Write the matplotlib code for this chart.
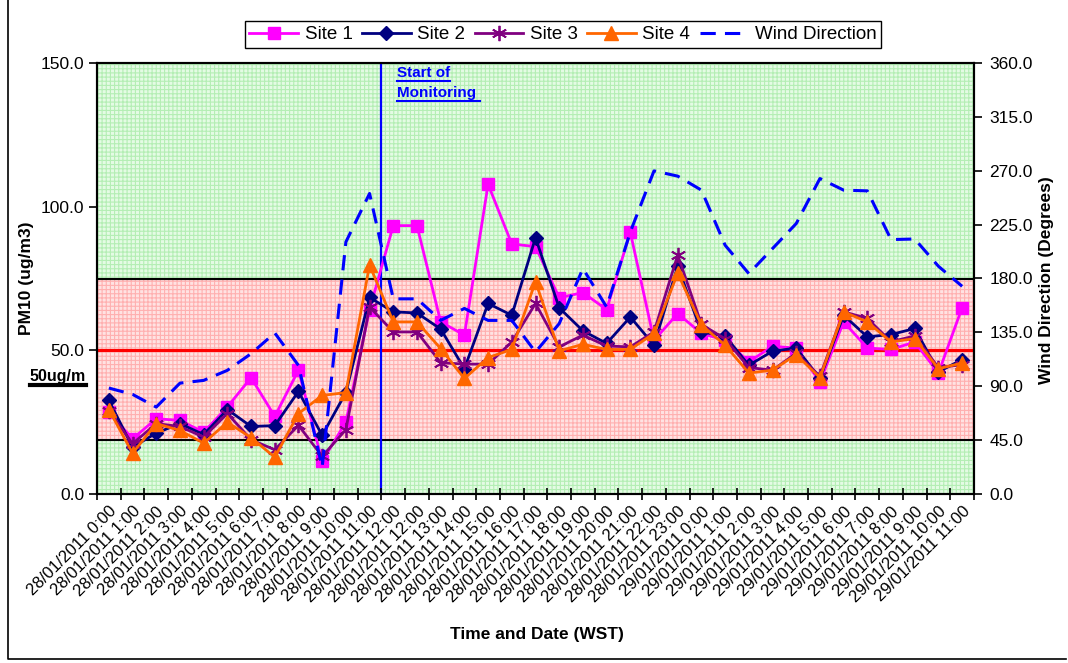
import matplotlib
matplotlib.use("Agg")
import numpy as np
import matplotlib.pyplot as plt
from matplotlib.lines import Line2D

# ---- data ----
labels = [
    "28/01/2011 0:00", "28/01/2011 1:00", "28/01/2011 2:00", "28/01/2011 3:00",
    "28/01/2011 4:00", "28/01/2011 5:00", "28/01/2011 6:00", "28/01/2011 7:00",
    "28/01/2011 8:00", "28/01/2011 9:00", "28/01/2011 10:00", "28/01/2011 11:00",
    "28/01/2011 12:00", "28/01/2011 12:00", "28/01/2011 13:00", "28/01/2011 14:00",
    "28/01/2011 15:00", "28/01/2011 16:00", "28/01/2011 17:00", "28/01/2011 18:00",
    "28/01/2011 19:00", "28/01/2011 20:00", "28/01/2011 21:00", "28/01/2011 22:00",
    "28/01/2011 23:00", "29/01/2011 0:00", "29/01/2011 1:00", "29/01/2011 2:00",
    "29/01/2011 3:00", "29/01/2011 4:00", "29/01/2011 5:00", "29/01/2011 6:00",
    "29/01/2011 7:00", "29/01/2011 8:00", "29/01/2011 9:00", "29/01/2011 10:00",
    "29/01/2011 11:00",
]
site1 = [28.5, 19.2, 26.2, 25.6, 21.5, 30.3, 40.5, 27.0, 43.1, 11.4, 25.0, 64.2,
         93.4, 93.4, 59.9, 55.3, 107.8, 87.0, 86.1, 68.3, 70.1, 64.2, 91.1, 53.5,
         62.8, 55.9, 53.5, 46.0, 51.4, 50.8, 39.0, 59.9, 50.8, 50.3, 52.9, 42.1, 64.9]
site2 = [32.6, 16.3, 21.2, 24.5, 20.7, 29.4, 23.5, 23.8, 35.7, 20.4, 35.3, 68.4,
         63.4, 63.0, 57.4, 43.6, 66.3, 62.2, 89.2, 64.8, 56.8, 52.4, 61.6, 51.8,
         79.3, 56.4, 55.0, 44.8, 49.7, 50.8, 40.2, 62.2, 54.7, 55.5, 57.6, 42.5, 46.8]
site3 = [29.0, 17.5, 24.5, 23.5, 19.8, 28.0, 18.9, 15.4, 23.9, 13.1, 22.4, 65.1,
         56.4, 56.4, 45.7, 45.2, 45.2, 52.9, 66.3, 51.2, 55.3, 51.5, 51.2, 56.4,
         83.2, 59.0, 54.0, 44.0, 43.1, 49.0, 41.0, 63.4, 61.1, 53.0, 55.0, 44.0, 45.0]
site4 = [29.4, 14.2, 24.5, 22.1, 17.7, 25.0, 19.6, 12.8, 28.0, 34.3, 35.3, 79.7,
         59.9, 59.9, 50.6, 40.2, 47.5, 50.3, 73.9, 49.8, 52.1, 50.3, 50.3, 55.9,
         76.8, 58.8, 51.8, 42.1, 43.1, 48.5, 40.5, 63.4, 59.9, 52.9, 54.1, 43.6, 45.6]
wind = [88.5, 83.2, 72.6, 92.6, 94.9, 103.3, 117.2, 134.5, 107.4, 22.4, 210.5, 251.0,
        163.0, 163.0, 145.0, 155.0, 145.0, 145.0, 118.6, 142.3, 188.3, 156.2, 218.9, 269.9,
        265.5, 253.8, 207.8, 184.1, 205.0, 225.9, 263.5, 253.8, 253.2, 212.5, 213.0, 190.2, 173.5]

pm_max = 150
wind_max = 360
criterion = 50            # ug/m3 guideline
band_deg = (45, 180)      # highlighted wind sector
start_idx = 11.5          # start of monitoring, between 11:00 and 12:00

plt.rcParams["font.family"] = ["Liberation Sans", "DejaVu Sans"]
plt.rcParams["hatch.linewidth"] = 0.8

fig = plt.figure(figsize=(10.68, 6.63), dpi=100)
ax = fig.add_axes([97 / 1068, 1 - 494 / 663, 877 / 1068, 431 / 663])
ax2 = ax.twinx()

x = np.arange(len(labels))

# background: green grid pattern, pink band for wind sector
ax.set_facecolor("#e4fbe4")
ax.axhspan(0, pm_max, facecolor="none", edgecolor="#b4eeb4", hatch="++++", lw=0, zorder=0)
lo = band_deg[0] * pm_max / wind_max
hi = band_deg[1] * pm_max / wind_max
ax.axhspan(lo, hi, facecolor="#ffe2e2", edgecolor="#ffb0b0", hatch="++++", lw=0, zorder=0.5)
ax.axhline(lo, color="black", lw=1.5, zorder=1)
ax.axhline(hi, color="black", lw=1.5, zorder=1)
ax.axhline(criterion, color="#ff0000", lw=2.2, zorder=1)
ax.axvline(start_idx, color="#0000ff", lw=1.6, zorder=1)

l1, = ax.plot(x, site1, color="#ff00ff", marker="s", ms=8.5, lw=2, label="Site 1", zorder=3)
l2, = ax.plot(x, site2, color="#000080", marker="D", ms=7.5, lw=2, label="Site 2", zorder=3)
l3, = ax.plot(x, site3, color="#800080", marker=(6, 2, 0), ms=11, mew=1.3, lw=2,
              label="Site 3", zorder=3)
l4, = ax.plot(x, site4, color="#ff6600", marker="^", ms=9.5, lw=2, label="Site 4", zorder=3)
l5, = ax2.plot(x, wind, color="#0000ff", ls=(0, (5, 3)), lw=2.2, label="Wind Direction")

ax.set_xlim(-0.5, len(x) - 0.5)
ax.set_ylim(0, pm_max)
ax2.set_ylim(0, wind_max)
ax.set_yticks(np.arange(0, pm_max + 1, 50))
ax2.set_yticks(np.arange(0, wind_max + 1, 45))
ax.yaxis.set_major_formatter(plt.FormatStrFormatter("%.1f"))
ax2.yaxis.set_major_formatter(plt.FormatStrFormatter("%.1f"))

ax.set_xticks(x)
ax.set_xticklabels(labels, rotation=45, ha="right", rotation_mode="anchor", fontsize=12)
ax.set_xticks(np.arange(-0.5, len(x)), minor=True)
ax.tick_params(axis="x", which="major", length=0, pad=7)
ax.tick_params(axis="x", which="minor", direction="inout", length=8, width=1.2)
ax.tick_params(axis="y", direction="out", length=6, width=1.2, labelsize=12.5, pad=3)
ax2.tick_params(axis="y", direction="out", length=6, width=1.2, labelsize=12.5, pad=5)
for a in (ax, ax2):
    for s in a.spines.values():
        s.set_linewidth(1.5)
        s.set_color("black")

leg = fig.legend(handles=[l1, l2, l3, l4, l5], ncol=5, loc="center",
                 bbox_to_anchor=(563 / 1068, 1 - 34.5 / 663), fontsize=13.5,
                 frameon=True, fancybox=False, edgecolor="black", framealpha=1,
                 handlelength=2.6, handletextpad=0.35, columnspacing=0.5, borderpad=0.25)
leg.get_frame().set_linewidth(1.0)

fig.text(27 / 1068, 1 - 278 / 663, "PM10 (ug/m3)", rotation=90, fontsize=12.5,
         fontweight="bold", ha="center", va="center")
fig.text(1046 / 1068, 1 - 280 / 663, "Wind Direction (Degrees)", rotation=90,
         fontsize=12.5, fontweight="bold", ha="center", va="center")
fig.text(537 / 1068, 1 - 634 / 663, "Time and Date (WST)", fontsize=12.5,
         fontweight="bold", ha="center", va="center")

# underlined annotations
notes = [
    (397, 73, "Start of", "#0000ff", 11, 1.5, 0),
    (397, 93, "Monitoring", "#0000ff", 11, 1.5, 4),
    (30, 376, "50ug/m", "black", 11.5, 3, 0),
]
texts = []
for px, py, s, c, fs, ulw, extra in notes:
    t = fig.text(px / 1068, 1 - py / 663, s, color=c, fontsize=fs, fontweight="bold",
                 ha="left", va="center")
    texts.append((t, c, ulw, extra))
fig.canvas.draw()
r = fig.canvas.get_renderer()
for t, c, ulw, extra in texts:
    bb = t.get_window_extent(r)
    yb = bb.y0 - 1
    fig.add_artist(Line2D([bb.x0 / 1068, (bb.x1 + extra) / 1068], [yb / 663, yb / 663],
                          transform=fig.transFigure, color=c, lw=ulw))

# chart area border
fig.add_artist(Line2D([8 / 1068, 8 / 1068, 1066 / 1068], [1.0, 4 / 663, 4 / 663],
                      transform=fig.transFigure, color="black", lw=1.2))

fig.savefig("out.png", dpi=100)
